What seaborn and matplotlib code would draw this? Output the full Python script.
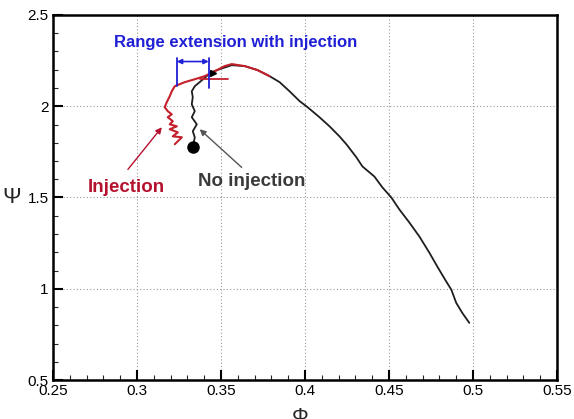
import matplotlib
matplotlib.use("Agg")
import matplotlib.pyplot as plt
import seaborn as sns
import pandas as pd
import numpy as np

sns.set_theme(style="white")
plt.rcParams['font.family'] = ['Liberation Sans', 'DejaVu Sans']

# No-injection (black) curve
phi_noinj = [0.3332, 0.3344, 0.3332, 0.3356, 0.3326, 0.3344, 0.3326, 0.3332, 0.3326,
             0.3344, 0.3373, 0.3415, 0.3445, 0.3492, 0.3564, 0.3641, 0.3718, 0.3789,
             0.3849, 0.3908, 0.3968, 0.4015, 0.4086, 0.4146, 0.4205, 0.4247, 0.4306,
             0.4342, 0.4413, 0.4461, 0.4514, 0.4562, 0.4621, 0.4681, 0.4740, 0.4788,
             0.4841, 0.4871, 0.4900, 0.4936, 0.4978]
psi_noinj = [1.775, 1.830, 1.863, 1.901, 1.940, 1.973, 2.011, 2.050, 2.082,
             2.110, 2.132, 2.165, 2.187, 2.203, 2.225, 2.220, 2.198, 2.165,
             2.132, 2.082, 2.028, 1.995, 1.940, 1.890, 1.835, 1.791, 1.720,
             1.670, 1.615, 1.555, 1.500, 1.434, 1.363, 1.286, 1.198, 1.121,
             1.039, 0.995, 0.923, 0.868, 0.813]

# Injection (red) curve
phi_inj = [0.3225, 0.3267, 0.3213, 0.3243, 0.3195, 0.3237, 0.3195, 0.3213, 0.3183,
           0.3207, 0.3183, 0.3165, 0.3177, 0.3195, 0.3207, 0.3225, 0.3284, 0.3344,
           0.3403, 0.3463, 0.3522, 0.3564, 0.3641, 0.3718, 0.3789]
psi_inj = [1.792, 1.830, 1.835, 1.857, 1.874, 1.890, 1.901, 1.918, 1.940,
           1.956, 1.973, 1.995, 2.022, 2.055, 2.082, 2.110, 2.132, 2.148,
           2.165, 2.192, 2.220, 2.231, 2.220, 2.198, 2.165]

# Range-extension bracket (Phi of the two limits)
range_lo, range_hi = 0.3237, 0.3427
# red stall marker line
stall_phi = [0.3373, 0.3540]
stall_psi = [2.148, 2.148]

x_ticks = [0.25, 0.3, 0.35, 0.4, 0.45, 0.5, 0.55]
x_labels = ["0.25", "0.3", "0.35", "0.4", "0.45", "0.5", "0.55"]
y_ticks = [0.5, 1, 1.5, 2, 2.5]
y_labels = ["0.5", "1", "1.5", "2", "2.5"]

df_no = pd.DataFrame({"phi": phi_noinj, "psi": psi_noinj})
df_inj = pd.DataFrame({"phi": phi_inj, "psi": psi_inj})

fig = plt.figure(figsize=(5.74, 4.19), dpi=100)
ax = fig.add_axes([53/574, 1-380/419, (557-53)/574, (380-15)/419])

sns.lineplot(data=df_no, x="phi", y="psi", sort=False, estimator=None,
             color="#1e1e1e", lw=1.3, ax=ax)
sns.lineplot(data=df_inj, x="phi", y="psi", sort=False, estimator=None,
             color="#c4202c", lw=1.5, ax=ax)
ax.plot(stall_phi, stall_psi, color="#c4202c", lw=1.3)
# start blob and end mark of no-injection curve
ax.plot([phi_noinj[0]], [psi_noinj[0]], marker='o', color="black", ms=8)
ax.plot([0.3450], [2.18], marker='>', color="black", ms=4)

# bracket
blue = "#1f1fd6"
ax.plot([range_lo, range_lo], [2.110, 2.265], color=blue, lw=1.3)
ax.plot([range_hi, range_hi], [2.100, 2.265], color=blue, lw=1.3)
ax.annotate("", xy=(range_lo, 2.245), xytext=(range_hi, 2.245),
            arrowprops=dict(arrowstyle="<|-|>", color=blue, lw=1.2,
                            mutation_scale=7, shrinkA=0, shrinkB=0))
ax.text(0.3587, 2.352, "Range extension with injection", color=blue,
        fontsize=12, fontweight="bold", ha="center", va="center")

ax.annotate("", xy=(0.3148, 1.885), xytext=(0.2946, 1.654),
            arrowprops=dict(arrowstyle="-|>", color="#b5122f", lw=1.0,
                            mutation_scale=9, shrinkA=0, shrinkB=0))
ax.text(0.2934, 1.555, "Injection", color="#b5122f", fontsize=13.5,
        fontweight="bold", ha="center", va="center")
ax.annotate("", xy=(0.3373, 1.874), xytext=(0.3623, 1.665),
            arrowprops=dict(arrowstyle="-|>", color="#555555", lw=1.0,
                            mutation_scale=9, shrinkA=0, shrinkB=0))
ax.text(0.3682, 1.588, "No injection", color="#3a3a3a", fontsize=13.5,
        fontweight="bold", ha="center", va="center")

ax.set_xlim(0.25, 0.55)
ax.set_ylim(0.5, 2.5)
ax.set_xticks(x_ticks)
ax.set_xticklabels(x_labels)
ax.set_yticks(y_ticks)
ax.set_yticklabels(y_labels)
ax.set_xticks(np.arange(0.25, 0.5501, 0.01), minor=True)
ax.set_yticks(np.arange(0.5, 2.501, 0.1), minor=True)
ax.tick_params(axis="both", which="major", direction="in", length=7, width=1.5,
               labelsize=11, colors="black", bottom=True, left=True, top=False, right=False, pad=3)
ax.tick_params(axis="both", which="minor", direction="in", length=3.5, width=0.8,
               bottom=True, left=True, top=False, right=False)
ax.grid(True, which="major", linestyle=(0, (1, 2)), color="#999999", lw=0.8)
for s in ax.spines.values():
    s.set_color("black")
    s.set_linewidth(1.8)
ax.set_xlabel("Φ", fontsize=15)
ax.set_ylabel("Ψ", fontsize=16, rotation=0, va="center", ha="center")
ax.xaxis.set_label_coords((300-53)/504, -0.075)
ax.yaxis.set_label_coords((12-53)/504, 0.5)

fig.savefig("out.png", dpi=100)
